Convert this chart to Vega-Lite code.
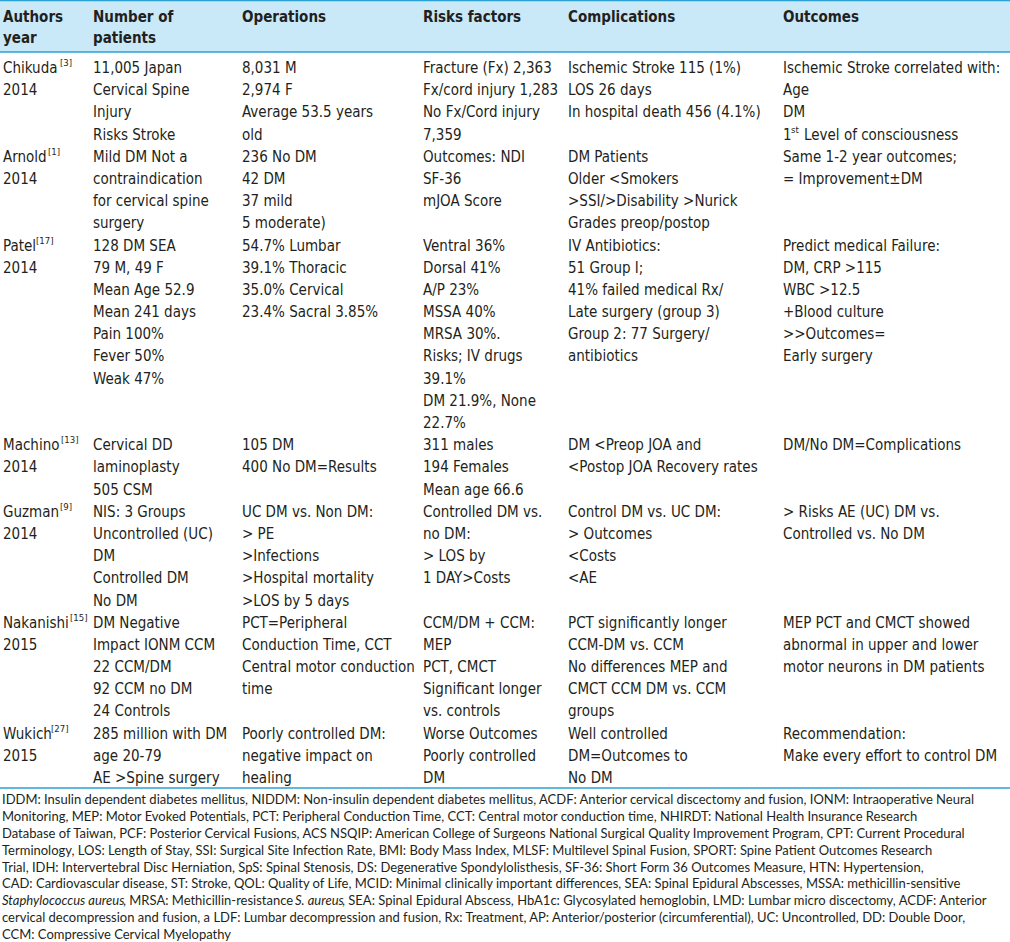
{
"$schema": "https://vega.github.io/schema/vega-lite/v6.json",
"width": 1010, "height": 942, "padding": 0, "autosize": {"type": "none"},
"background": "white",
"config": {"view": {"stroke": null}, "text": {"font": "Liberation Sans Narrow, DejaVu Sans Condensed, sans-serif", "fontSize": 15, "align": "left", "baseline": "middle", "fill": "#231f20"}},
"resolve": {"scale": {"y": "independent"}},
"datasets": {
"frame": [{"edge": 0}, {"edge": 1}, {"edge": 2}],
"band": [{"edge": 0, "edge2": 1}],
"header": [
{"col": 0, "line": 0, "text": "Authors"}, {"col": 0, "line": 1, "text": "year"},
{"col": 1, "line": 0, "text": "Number of"}, {"col": 1, "line": 1, "text": "patients"},
{"col": 2, "line": 0, "text": "Operations"}, {"col": 3, "line": 0, "text": "Risks factors"},
{"col": 4, "line": 0, "text": "Complications"}, {"col": 5, "line": 0, "text": "Outcomes"}],
"body": [
{"col": 0, "line": 2, "text": "Chikuda"}, {"col": 0, "line": 3, "text": "2014"},
{"col": 1, "line": 2, "text": "11,005 Japan"}, {"col": 1, "line": 3, "text": "Cervical Spine"}, {"col": 1, "line": 4, "text": "Injury"}, {"col": 1, "line": 5, "text": "Risks Stroke"},
{"col": 2, "line": 2, "text": "8,031 M"}, {"col": 2, "line": 3, "text": "2,974 F"}, {"col": 2, "line": 4, "text": "Average 53.5 years"}, {"col": 2, "line": 5, "text": "old"},
{"col": 3, "line": 2, "text": "Fracture (Fx) 2,363"}, {"col": 3, "line": 3, "text": "Fx/cord injury 1,283"}, {"col": 3, "line": 4, "text": "No Fx/Cord injury"}, {"col": 3, "line": 5, "text": "7,359"},
{"col": 4, "line": 2, "text": "Ischemic Stroke 115 (1%)"}, {"col": 4, "line": 3, "text": "LOS 26 days"}, {"col": 4, "line": 4, "text": "In hospital death 456 (4.1%)"},
{"col": 5, "line": 2, "text": "Ischemic Stroke correlated with:"}, {"col": 5, "line": 3, "text": "Age"}, {"col": 5, "line": 4, "text": "DM"}, {"col": 5, "line": 5, "text": "1"},
{"col": 0, "line": 6, "text": "Arnold"}, {"col": 0, "line": 7, "text": "2014"},
{"col": 1, "line": 6, "text": "Mild DM Not a"}, {"col": 1, "line": 7, "text": "contraindication"}, {"col": 1, "line": 8, "text": "for cervical spine"}, {"col": 1, "line": 9, "text": "surgery"},
{"col": 2, "line": 6, "text": "236 No DM"}, {"col": 2, "line": 7, "text": "42 DM"}, {"col": 2, "line": 8, "text": "37 mild"}, {"col": 2, "line": 9, "text": "5 moderate)"},
{"col": 3, "line": 6, "text": "Outcomes: NDI"}, {"col": 3, "line": 7, "text": "SF-36"}, {"col": 3, "line": 8, "text": "mJOA Score"},
{"col": 4, "line": 6, "text": "DM Patients"}, {"col": 4, "line": 7, "text": "Older <Smokers"}, {"col": 4, "line": 8, "text": ">SSI/>Disability >Nurick"}, {"col": 4, "line": 9, "text": "Grades preop/postop"},
{"col": 5, "line": 6, "text": "Same 1-2 year outcomes;"}, {"col": 5, "line": 7, "text": "= Improvement±DM"},
{"col": 0, "line": 10, "text": "Patel"}, {"col": 0, "line": 11, "text": "2014"},
{"col": 1, "line": 10, "text": "128 DM SEA"}, {"col": 1, "line": 11, "text": "79 M, 49 F"}, {"col": 1, "line": 12, "text": "Mean Age 52.9"}, {"col": 1, "line": 13, "text": "Mean 241 days"}, {"col": 1, "line": 14, "text": "Pain 100%"}, {"col": 1, "line": 15, "text": "Fever 50%"}, {"col": 1, "line": 16, "text": "Weak 47%"},
{"col": 2, "line": 10, "text": "54.7% Lumbar"}, {"col": 2, "line": 11, "text": "39.1% Thoracic"}, {"col": 2, "line": 12, "text": "35.0% Cervical"}, {"col": 2, "line": 13, "text": "23.4% Sacral 3.85%"},
{"col": 3, "line": 10, "text": "Ventral 36%"}, {"col": 3, "line": 11, "text": "Dorsal 41%"}, {"col": 3, "line": 12, "text": "A/P 23%"}, {"col": 3, "line": 13, "text": "MSSA 40%"}, {"col": 3, "line": 14, "text": "MRSA 30%."}, {"col": 3, "line": 15, "text": "Risks; IV drugs"}, {"col": 3, "line": 16, "text": "39.1%"}, {"col": 3, "line": 17, "text": "DM 21.9%, None"}, {"col": 3, "line": 18, "text": "22.7%"},
{"col": 4, "line": 10, "text": "IV Antibiotics:"}, {"col": 4, "line": 11, "text": "51 Group I;"}, {"col": 4, "line": 12, "text": "41% failed medical Rx/"}, {"col": 4, "line": 13, "text": "Late surgery (group 3)"}, {"col": 4, "line": 14, "text": "Group 2: 77 Surgery/"}, {"col": 4, "line": 15, "text": "antibiotics"},
{"col": 5, "line": 10, "text": "Predict medical Failure:"}, {"col": 5, "line": 11, "text": "DM, CRP >115"}, {"col": 5, "line": 12, "text": "WBC >12.5"}, {"col": 5, "line": 13, "text": "+Blood culture"}, {"col": 5, "line": 14, "text": ">>Outcomes="}, {"col": 5, "line": 15, "text": "Early surgery"},
{"col": 0, "line": 19, "text": "Machino"}, {"col": 0, "line": 20, "text": "2014"},
{"col": 1, "line": 19, "text": "Cervical DD"}, {"col": 1, "line": 20, "text": "laminoplasty"}, {"col": 1, "line": 21, "text": "505 CSM"},
{"col": 2, "line": 19, "text": "105 DM"}, {"col": 2, "line": 20, "text": "400 No DM=Results"},
{"col": 3, "line": 19, "text": "311 males"}, {"col": 3, "line": 20, "text": "194 Females"}, {"col": 3, "line": 21, "text": "Mean age 66.6"},
{"col": 4, "line": 19, "text": "DM <Preop JOA and"}, {"col": 4, "line": 20, "text": "<Postop JOA Recovery rates"},
{"col": 5, "line": 19, "text": "DM/No DM=Complications"},
{"col": 0, "line": 22, "text": "Guzman"}, {"col": 0, "line": 23, "text": "2014"},
{"col": 1, "line": 22, "text": "NIS: 3 Groups"}, {"col": 1, "line": 23, "text": "Uncontrolled (UC)"}, {"col": 1, "line": 24, "text": "DM"}, {"col": 1, "line": 25, "text": "Controlled DM"}, {"col": 1, "line": 26, "text": "No DM"},
{"col": 2, "line": 22, "text": "UC DM vs. Non DM:"}, {"col": 2, "line": 23, "text": "> PE"}, {"col": 2, "line": 24, "text": " >Infections"}, {"col": 2, "line": 25, "text": " >Hospital mortality"}, {"col": 2, "line": 26, "text": ">LOS by 5 days"},
{"col": 3, "line": 22, "text": "Controlled DM vs."}, {"col": 3, "line": 23, "text": "no DM:"}, {"col": 3, "line": 24, "text": "> LOS by"}, {"col": 3, "line": 25, "text": "1 DAY>Costs"},
{"col": 4, "line": 22, "text": "Control DM vs. UC DM:"}, {"col": 4, "line": 23, "text": "> Outcomes"}, {"col": 4, "line": 24, "text": "<Costs"}, {"col": 4, "line": 25, "text": "<AE"},
{"col": 5, "line": 22, "text": "> Risks AE (UC) DM vs."}, {"col": 5, "line": 23, "text": "Controlled vs. No DM"},
{"col": 0, "line": 27, "text": "Nakanishi"}, {"col": 0, "line": 28, "text": "2015"},
{"col": 1, "line": 27, "text": "DM Negative"}, {"col": 1, "line": 28, "text": "Impact IONM CCM"}, {"col": 1, "line": 29, "text": "22 CCM/DM"}, {"col": 1, "line": 30, "text": "92 CCM no DM"}, {"col": 1, "line": 31, "text": "24 Controls"},
{"col": 2, "line": 27, "text": "PCT=Peripheral"}, {"col": 2, "line": 28, "text": "Conduction Time, CCT"}, {"col": 2, "line": 29, "text": "Central motor conduction"}, {"col": 2, "line": 30, "text": "time"},
{"col": 3, "line": 27, "text": "CCM/DM + CCM:"}, {"col": 3, "line": 28, "text": "MEP"}, {"col": 3, "line": 29, "text": "PCT, CMCT"}, {"col": 3, "line": 30, "text": "Significant longer"}, {"col": 3, "line": 31, "text": "vs. controls"},
{"col": 4, "line": 27, "text": "PCT significantly longer"}, {"col": 4, "line": 28, "text": "CCM-DM vs. CCM"}, {"col": 4, "line": 29, "text": "No differences MEP and"}, {"col": 4, "line": 30, "text": "CMCT CCM DM vs. CCM"}, {"col": 4, "line": 31, "text": "groups"},
{"col": 5, "line": 27, "text": "MEP PCT and CMCT showed"}, {"col": 5, "line": 28, "text": "abnormal in upper and lower"}, {"col": 5, "line": 29, "text": "motor neurons in DM patients"},
{"col": 0, "line": 32, "text": "Wukich"}, {"col": 0, "line": 33, "text": "2015"},
{"col": 1, "line": 32, "text": "285 million with DM"}, {"col": 1, "line": 33, "text": "age 20-79"}, {"col": 1, "line": 34, "text": "AE >Spine surgery"},
{"col": 2, "line": 32, "text": "Poorly controlled DM:"}, {"col": 2, "line": 33, "text": "negative impact on"}, {"col": 2, "line": 34, "text": "healing"},
{"col": 3, "line": 32, "text": "Worse Outcomes"}, {"col": 3, "line": 33, "text": "Poorly controlled"}, {"col": 3, "line": 34, "text": "DM"},
{"col": 4, "line": 32, "text": "Well controlled"}, {"col": 4, "line": 33, "text": "DM=Outcomes to"}, {"col": 4, "line": 34, "text": "No DM"},
{"col": 5, "line": 32, "text": "Recommendation:"}, {"col": 5, "line": 33, "text": "Make every effort to control DM"}],
"sup": [
{"who": "Chikuda", "col": 0, "line": 2, "text": "[3]"}, {"who": "Arnold", "col": 0, "line": 6, "text": "[1]"},
{"who": "Patel", "col": 0, "line": 10, "text": "[17]"}, {"who": "Machino", "col": 0, "line": 19, "text": "[13]"},
{"who": "Guzman", "col": 0, "line": 22, "text": "[9]"}, {"who": "Nakanishi", "col": 0, "line": 27, "text": "[15]"},
{"who": "Wukich", "col": 0, "line": 32, "text": "[27]"}, {"who": "st", "col": 5, "line": 5, "text": "st"},
{"who": "level", "col": 5, "line": 5, "text": "Level of consciousness"}],
"notes": [
{"col": 0, "line": 35, "seg": 0, "style": "normal", "text": "IDDM: Insulin dependent diabetes mellitus, NIDDM: Non-insulin dependent diabetes mellitus, ACDF: Anterior cervical discectomy and fusion, IONM: Intraoperative Neural"},
{"col": 0, "line": 36, "seg": 0, "style": "normal", "text": "Monitoring, MEP: Motor Evoked Potentials, PCT: Peripheral Conduction Time, CCT: Central motor conduction time, NHIRDT: National Health Insurance Research"},
{"col": 0, "line": 37, "seg": 0, "style": "normal", "text": "Database of Taiwan, PCF: Posterior Cervical Fusions, ACS NSQIP: American College of Surgeons National Surgical Quality Improvement Program, CPT: Current Procedural"},
{"col": 0, "line": 38, "seg": 0, "style": "normal", "text": "Terminology, LOS: Length of Stay, SSI: Surgical Site Infection Rate, BMI: Body Mass Index, MLSF: Multilevel Spinal Fusion, SPORT: Spine Patient Outcomes Research"},
{"col": 0, "line": 39, "seg": 0, "style": "normal", "text": "Trial, IDH: Intervertebral Disc Herniation, SpS: Spinal Stenosis, DS: Degenerative Spondylolisthesis, SF-36: Short Form 36 Outcomes Measure, HTN: Hypertension,"},
{"col": 0, "line": 40, "seg": 0, "style": "normal", "text": "CAD: Cardiovascular disease, ST: Stroke, QOL: Quality of Life, MCID: Minimal clinically important differences, SEA: Spinal Epidural Abscesses, MSSA: methicillin-sensitive"},
{"col": 0, "line": 41, "seg": 0, "style": "italic", "text": "Staphylococcus aureus"},
{"col": 0, "line": 41, "seg": 1, "style": "normal", "text": ", MRSA: Methicillin-resistance"},
{"col": 0, "line": 41, "seg": 2, "style": "italic", "text": "S. aureus"},
{"col": 0, "line": 41, "seg": 3, "style": "normal", "text": ", SEA: Spinal Epidural Abscess, HbA1c: Glycosylated hemoglobin, LMD: Lumbar micro discectomy, ACDF: Anterior"},
{"col": 0, "line": 42, "seg": 0, "style": "normal", "text": "cervical decompression and fusion, a LDF: Lumbar decompression and fusion, Rx: Treatment, AP: Anterior/posterior (circumferential), UC: Uncontrolled, DD: Double Door,"},
{"col": 0, "line": 43, "seg": 0, "style": "normal", "text": "CCM: Compressive Cervical Myelopathy"}]
},
"layer": [
{"data": {"name": "band"}, "mark": {"type": "rect", "color": "#c9e9f8"},
 "encoding": {"y": {"field": "edge", "type": "quantitative", "scale": {"domain": [0, 1], "range": [0, 52], "nice": false, "zero": false}, "axis": null}, "y2": {"field": "edge2"}}},
{"data": {"name": "frame"}, "mark": {"type": "rule", "color": "#2ba1d6", "strokeWidth": 1.3},
 "encoding": {"y": {"field": "edge", "type": "quantitative", "scale": {"domain": [0, 1, 2], "range": [0.7, 52, 788], "nice": false, "zero": false}, "axis": null}}},
{"data": {"name": "header"}, "mark": {"type": "text", "fontWeight": "bold"},
 "encoding": {"x": {"field": "col", "type": "quantitative", "scale": {"domain": [0, 1, 2, 3, 4, 5], "range": [3, 93, 242, 423, 568, 783], "nice": false, "zero": false}, "axis": null},
 "y": {"field": "line", "type": "quantitative", "scale": {"domain": [0, 1, 2, 34, 35, 43], "range": [17, 38, 68, 778, 800, 935], "nice": false, "zero": false}, "axis": null}, "text": {"field": "text"}}},
{"data": {"name": "body"}, "mark": {"type": "text"},
 "encoding": {"x": {"field": "col", "type": "quantitative", "axis": null},
 "y": {"field": "line", "type": "quantitative", "scale": {"domain": [0, 1, 2, 34, 35, 43], "range": [17, 38, 68, 778, 800, 935], "nice": false, "zero": false}, "axis": null}, "text": {"field": "text"}}},
{"data": {"name": "sup"}, "transform": [{"filter": "datum.who == 'Chikuda'"}], "mark": {"type": "text", "fontSize": 9.5, "dx": 57, "dy": -5},
 "encoding": {"x": {"field": "col", "type": "quantitative", "axis": null}, "y": {"field": "line", "type": "quantitative", "scale": {"domain": [0, 1, 2, 34, 35, 43], "range": [17, 38, 68, 778, 800, 935], "nice": false, "zero": false}, "axis": null}, "text": {"field": "text"}}},
{"data": {"name": "sup"}, "transform": [{"filter": "datum.who == 'Arnold'"}], "mark": {"type": "text", "fontSize": 9.5, "dx": 45, "dy": -5},
 "encoding": {"x": {"field": "col", "type": "quantitative", "axis": null}, "y": {"field": "line", "type": "quantitative", "scale": {"domain": [0, 1, 2, 34, 35, 43], "range": [17, 38, 68, 778, 800, 935], "nice": false, "zero": false}, "axis": null}, "text": {"field": "text"}}},
{"data": {"name": "sup"}, "transform": [{"filter": "datum.who == 'Patel'"}], "mark": {"type": "text", "fontSize": 9.5, "dx": 33, "dy": -5},
 "encoding": {"x": {"field": "col", "type": "quantitative", "axis": null}, "y": {"field": "line", "type": "quantitative", "scale": {"domain": [0, 1, 2, 34, 35, 43], "range": [17, 38, 68, 778, 800, 935], "nice": false, "zero": false}, "axis": null}, "text": {"field": "text"}}},
{"data": {"name": "sup"}, "transform": [{"filter": "datum.who == 'Machino'"}], "mark": {"type": "text", "fontSize": 9.5, "dx": 58, "dy": -5},
 "encoding": {"x": {"field": "col", "type": "quantitative", "axis": null}, "y": {"field": "line", "type": "quantitative", "scale": {"domain": [0, 1, 2, 34, 35, 43], "range": [17, 38, 68, 778, 800, 935], "nice": false, "zero": false}, "axis": null}, "text": {"field": "text"}}},
{"data": {"name": "sup"}, "transform": [{"filter": "datum.who == 'Guzman'"}], "mark": {"type": "text", "fontSize": 9.5, "dx": 57, "dy": -5},
 "encoding": {"x": {"field": "col", "type": "quantitative", "axis": null}, "y": {"field": "line", "type": "quantitative", "scale": {"domain": [0, 1, 2, 34, 35, 43], "range": [17, 38, 68, 778, 800, 935], "nice": false, "zero": false}, "axis": null}, "text": {"field": "text"}}},
{"data": {"name": "sup"}, "transform": [{"filter": "datum.who == 'Nakanishi'"}], "mark": {"type": "text", "fontSize": 9.5, "dx": 67, "dy": -5},
 "encoding": {"x": {"field": "col", "type": "quantitative", "axis": null}, "y": {"field": "line", "type": "quantitative", "scale": {"domain": [0, 1, 2, 34, 35, 43], "range": [17, 38, 68, 778, 800, 935], "nice": false, "zero": false}, "axis": null}, "text": {"field": "text"}}},
{"data": {"name": "sup"}, "transform": [{"filter": "datum.who == 'Wukich'"}], "mark": {"type": "text", "fontSize": 9.5, "dx": 48, "dy": -5},
 "encoding": {"x": {"field": "col", "type": "quantitative", "axis": null}, "y": {"field": "line", "type": "quantitative", "scale": {"domain": [0, 1, 2, 34, 35, 43], "range": [17, 38, 68, 778, 800, 935], "nice": false, "zero": false}, "axis": null}, "text": {"field": "text"}}},
{"data": {"name": "sup"}, "transform": [{"filter": "datum.who == 'st'"}], "mark": {"type": "text", "fontSize": 9.5, "dx": 8, "dy": -5},
 "encoding": {"x": {"field": "col", "type": "quantitative", "axis": null}, "y": {"field": "line", "type": "quantitative", "scale": {"domain": [0, 1, 2, 34, 35, 43], "range": [17, 38, 68, 778, 800, 935], "nice": false, "zero": false}, "axis": null}, "text": {"field": "text"}}},
{"data": {"name": "sup"}, "transform": [{"filter": "datum.who == 'level'"}], "mark": {"type": "text", "dx": 21},
 "encoding": {"x": {"field": "col", "type": "quantitative", "axis": null}, "y": {"field": "line", "type": "quantitative", "scale": {"domain": [0, 1, 2, 34, 35, 43], "range": [17, 38, 68, 778, 800, 935], "nice": false, "zero": false}, "axis": null}, "text": {"field": "text"}}},
{"data": {"name": "notes"}, "transform": [{"filter": "datum.seg == 0 && datum.style == 'normal'"}], "mark": {"type": "text", "font": "Lato", "fontSize": 13, "dx": -1},
 "encoding": {"x": {"field": "col", "type": "quantitative", "axis": null}, "y": {"field": "line", "type": "quantitative", "scale": {"domain": [0, 1, 2, 34, 35, 43], "range": [17, 38, 68, 778, 800, 935], "nice": false, "zero": false}, "axis": null}, "text": {"field": "text"}}},
{"data": {"name": "notes"}, "transform": [{"filter": "datum.seg == 0 && datum.style == 'italic'"}], "mark": {"type": "text", "font": "Lato", "fontSize": 13, "fontStyle": "italic", "dx": -1},
 "encoding": {"x": {"field": "col", "type": "quantitative", "axis": null}, "y": {"field": "line", "type": "quantitative", "scale": {"domain": [0, 1, 2, 34, 35, 43], "range": [17, 38, 68, 778, 800, 935], "nice": false, "zero": false}, "axis": null}, "text": {"field": "text"}}},
{"data": {"name": "notes"}, "transform": [{"filter": "datum.seg == 1"}], "mark": {"type": "text", "font": "Lato", "fontSize": 13, "dx": 120},
 "encoding": {"x": {"field": "col", "type": "quantitative", "axis": null}, "y": {"field": "line", "type": "quantitative", "scale": {"domain": [0, 1, 2, 34, 35, 43], "range": [17, 38, 68, 778, 800, 935], "nice": false, "zero": false}, "axis": null}, "text": {"field": "text"}}},
{"data": {"name": "notes"}, "transform": [{"filter": "datum.seg == 2"}], "mark": {"type": "text", "font": "Lato", "fontSize": 13, "fontStyle": "italic", "dx": 292},
 "encoding": {"x": {"field": "col", "type": "quantitative", "axis": null}, "y": {"field": "line", "type": "quantitative", "scale": {"domain": [0, 1, 2, 34, 35, 43], "range": [17, 38, 68, 778, 800, 935], "nice": false, "zero": false}, "axis": null}, "text": {"field": "text"}}},
{"data": {"name": "notes"}, "transform": [{"filter": "datum.seg == 3"}], "mark": {"type": "text", "font": "Lato", "fontSize": 13, "dx": 339},
 "encoding": {"x": {"field": "col", "type": "quantitative", "axis": null}, "y": {"field": "line", "type": "quantitative", "scale": {"domain": [0, 1, 2, 34, 35, 43], "range": [17, 38, 68, 778, 800, 935], "nice": false, "zero": false}, "axis": null}, "text": {"field": "text"}}}
]
}
